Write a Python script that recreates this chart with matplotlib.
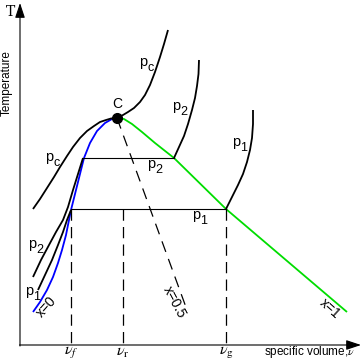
import matplotlib
matplotlib.use("Agg")
import matplotlib.pyplot as plt

# ---- data (picture coordinates: x to the right, y downward) ----
crit = (117, 118)
sat_liquid_x = [33, 40, 47, 53, 58, 62, 66, 69, 71, 75, 80, 84, 90, 97, 105, 112, 117]
sat_liquid_y = [312, 302, 290, 277, 263, 250, 235, 220, 210, 194, 174, 158, 143, 131, 123, 119, 118]
sat_vapor_x = [117, 124, 132, 142, 155, 174, 226, 347]
sat_vapor_y = [118, 119, 124, 132, 143, 158, 209, 312]
pc_left_x = [33, 40, 47, 54, 60, 67, 73, 80, 87, 94, 100, 106, 111, 117]
pc_left_y = [209, 199, 188, 177, 167, 156, 147, 138, 131, 126, 122, 120, 118.5, 118]
pc_right_x = [117, 123, 128, 134, 140, 145, 150, 155, 160, 164, 168]
pc_right_y = [118, 115, 112, 108, 102, 95, 85, 72, 57, 44, 30]
p2_liq_x = [33, 41, 49, 56, 63, 68, 73, 78, 83]
p2_liq_y = [277, 260, 245, 232, 220, 207, 190, 174, 158]
p1_liq_x = [38, 45, 52, 58, 63, 67, 71]
p1_liq_y = [290, 275, 260, 245, 232, 220, 210]
p2_vap_x = [174, 179, 184, 188, 192, 195, 197, 198.5, 199]
p2_vap_y = [158, 147, 136, 124, 110, 98, 86, 74, 60]
p1_vap_x = [226, 232, 238, 243, 247, 250, 252, 253, 253]
p1_vap_y = [209, 197, 185, 174, 162, 150, 138, 124, 110]
p2_level = 158
p1_level = 209
vol_f, vol_r, vol_g = 71, 123, 226
half_x = [117, 187]
half_y = [118, 310]
axis_origin = (20, 345)

plt.rcParams['font.family'] = ['Liberation Sans', 'DejaVu Sans']
plt.rcParams['mathtext.fontset'] = 'stix'
fig = plt.figure(figsize=(3.64, 3.61), dpi=100)
ax = fig.add_axes([0, 0, 1, 1])
ax.set_xlim(0, 364)
ax.set_ylim(361, 0)
ax.axis('off')

lw = 1.3
# axes with arrows
ax.annotate('', xy=(20, 3), xytext=(20, 346),
            arrowprops=dict(arrowstyle='-|>,head_length=0.9,head_width=0.3', color='k', lw=0.8,
                            shrinkA=0, shrinkB=0, mutation_scale=10))
ax.annotate('', xy=(361, 345), xytext=(19.5, 345),
            arrowprops=dict(arrowstyle='-|>,head_length=0.9,head_width=0.3', color='k', lw=0.8,
                            shrinkA=0, shrinkB=0, mutation_scale=10))

# saturation dome
ax.plot(sat_liquid_x, sat_liquid_y, color='#0000ff', lw=lw, solid_capstyle='butt')
ax.plot(sat_vapor_x, sat_vapor_y, color='#00dd00', lw=lw, solid_capstyle='butt')

# isobars
for xs, ys in [(pc_left_x, pc_left_y), (pc_right_x, pc_right_y), (p2_liq_x, p2_liq_y),
               (p1_liq_x, p1_liq_y), (p2_vap_x, p2_vap_y), (p1_vap_x, p1_vap_y)]:
    ax.plot(xs, ys, color='k', lw=lw, solid_capstyle='butt')
ax.plot([p2_liq_x[-1], p2_vap_x[0]], [p2_level, p2_level], color='k', lw=0.8)
ax.plot([p1_liq_x[-1], p1_vap_x[0]], [p1_level, p1_level], color='k', lw=0.8)

# dashed verticals
for xv in [vol_f, vol_r, vol_g]:
    ax.plot([xv, xv], [p1_level, axis_origin[1]], color='k', lw=0.9, dashes=(9, 5))
ax.plot(half_x, half_y, color='k', lw=0.9, dashes=(9, 6))

# critical point
ax.plot([crit[0]], [crit[1]], 'o', color='k', ms=7)
ax.text(117, 104, 'C', ha='center', va='center', fontsize=10)

def plabel(x, y, sub):
    ax.text(x, y, 'p', ha='center', va='center', fontsize=10.5)
    ax.text(x + 8, y + 6, sub, ha='center', va='center', fontsize=9)

plabel(49, 157, 'c')
plabel(143, 62, 'c')
plabel(176, 106, '2')
plabel(236, 142, '1')
plabel(151, 164, '2')
plabel(196, 215, '1')
plabel(32, 244, '2')
plabel(29, 291, '1')

ax.text(10, 12, 'T', ha='center', va='center', fontsize=10, family='DejaVu Serif')
ax.text(7, 83, 'Temperature', ha='center', va='center', rotation=90, fontsize=8.5)
ax.text(309, 352, 'specific volume,$\\nu$', ha='center', va='center', fontsize=8.5)

for xv, sub in [(vol_f, 'f'), (vol_r, 'r'), (vol_g, 'g')]:
    ax.text(xv, 352, r'$\nu_{\mathrm{%s}}$' % sub if sub != 'f' else r'$\nu_f$',
            ha='center', va='center', fontsize=11.5)

ax.text(46, 307, 'x=0', ha='center', va='center', rotation=48, fontsize=10)
ax.text(174, 302, 'x=0.5', ha='center', va='center', rotation=-62, fontsize=10)
ax.text(330, 309, 'x=1', ha='center', va='center', rotation=-42, fontsize=10)

fig.savefig('out.png', dpi=100)
